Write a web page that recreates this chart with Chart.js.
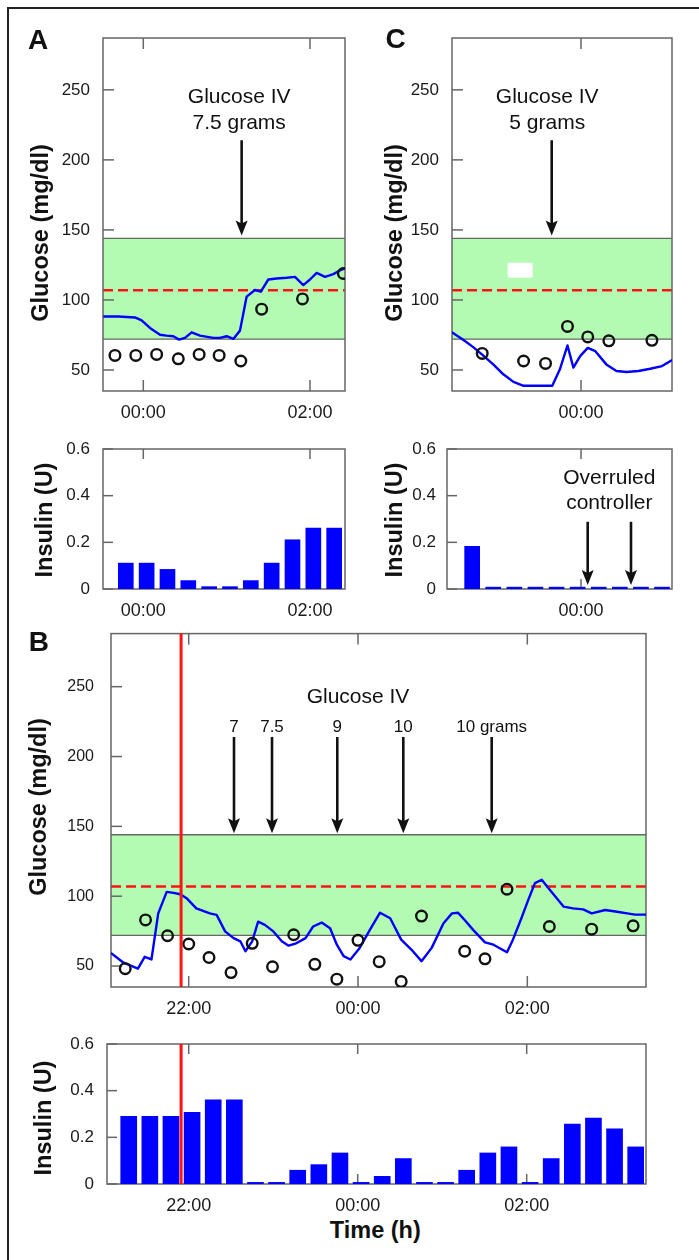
<!DOCTYPE html>
<html>
<head>
<meta charset="utf-8">
<script src="https://cdn.jsdelivr.net/npm/chart.js@4.4.1/dist/chart.umd.min.js"></script>
<style>
html, body { margin: 0; padding: 0; background: #fff; }
body { width: 699px; height: 1260px; position: relative; overflow: hidden;
       font-family: "Liberation Sans", Arial, Helvetica, sans-serif; color: #111; }
#frame { position: absolute; left: 7px; top: 7px; width: 720px; height: 1300px;
         border-left: 2px solid #222; border-top: 2px solid #222; }
canvas { position: absolute; }
.t { position: absolute; white-space: nowrap; line-height: 1; transform: translate(-50%, -50%); }
.b { font-weight: bold; font-size: 23.5px; }
.r { transform: translate(-50%, -50%) rotate(-90deg); }
.p { font-weight: bold; font-size: 28px; }
</style>
</head>
<body>
<div id="frame"></div>

<canvas id="gA" width="315" height="400" style="left:40px;top:20px"></canvas>
<canvas id="iA" width="315" height="190" style="left:40px;top:430px"></canvas>
<canvas id="gC" width="300" height="400" style="left:390px;top:20px"></canvas>
<canvas id="iC" width="300" height="190" style="left:390px;top:430px"></canvas>
<canvas id="gB" width="630" height="405" style="left:40px;top:615px"></canvas>
<canvas id="iB" width="630" height="190" style="left:40px;top:1025px"></canvas>

<div class="t p" style="left:38px;top:39.5px">A</div>
<div class="t p" style="left:395.5px;top:39px">C</div>
<div class="t p" style="left:38.8px;top:642px">B</div>

<div class="t b r" style="left:40.5px;top:232.5px">Glucose (mg/dl)</div>
<div class="t b r" style="left:395px;top:232.5px">Glucose (mg/dl)</div>
<div class="t b r" style="left:39.3px;top:806.7px">Glucose (mg/dl)</div>
<div class="t b r" style="left:44.7px;top:520px">Insulin (U)</div>
<div class="t b r" style="left:394.7px;top:520px">Insulin (U)</div>
<div class="t b r" style="left:43.8px;top:1118.3px">Insulin (U)</div>
<div class="t b" style="left:375.3px;top:1230.5px">Time (h)</div>

<script>
// temps en heures par rapport à minuit (négatif = soirée précédente)
const glucoseTicks = [50, 100, 150, 200, 250];
const glucoseLabels = ['50', '100', '150', '200', '250'];
const insulinTicks = [0, 0.2, 0.4, 0.6];
const insulinLabels = ['0', '0.2', '0.4', '0.6'];
const timeTicksA = [0, 2];
const timeTicksB = [-2, 0, 2];
const timeTicksC = [0];

const targetRange = [72, 144];
const targetGlucose = 107;

// --- Panel A ---
const cgmA_t = [-0.48, -0.30, -0.10, -0.02, 0.08, 0.20, 0.28, 0.36, 0.43, 0.50, 0.58, 0.68, 0.84, 0.92, 1.00, 1.08,
                1.16, 1.24, 1.34, 1.41, 1.50, 1.60, 1.72, 1.82, 1.92, 2.00, 2.08, 2.18, 2.28, 2.38, 2.42];
const cgmA_v = [88.2, 88.2, 87.5, 85.4, 80.0, 75.2, 74.5, 74.1, 71.7, 72.9, 76.9, 74.5, 72.9, 72.9, 74.1, 72.2,
                78.1, 102.4, 107.1, 105.9, 114.6, 115.3, 115.8, 116.5, 110.6, 114.6, 119.3, 116.5, 118.4, 121.7, 122.4];
const refA_t = [-0.34, -0.09, 0.16, 0.42, 0.67, 0.91, 1.17, 1.42, 1.91, 2.40];
const refA_v = [60.4, 60.4, 61.1, 58.0, 61.1, 60.4, 56.4, 93.4, 100.7, 118.9];
const insA_t = [-0.21, 0.04, 0.29, 0.54, 0.79, 1.04, 1.29, 1.54, 1.79, 2.04, 2.29];
const insA_v = [0.111, 0.111, 0.084, 0.036, 0.010, 0.010, 0.036, 0.111, 0.211, 0.261, 0.261];
const ivA_t = [1.18];
const ivA_label = ['Glucose IV', '7.5 grams'];

// --- Panel C ---
const cgmC_t = [-1.53, -1.40, -1.28, -1.16, -1.04, -0.92, -0.80, -0.68, -0.53, -0.34, -0.25, -0.16, -0.09, -0.01,
                0.08, 0.17, 0.30, 0.42, 0.54, 0.68, 0.82, 0.96, 1.08];
const cgmC_v = [76.9, 71.7, 66.5, 60.4, 54.0, 46.9, 41.5, 38.7, 38.7, 38.7, 50.5, 67.5, 51.7, 59.9,
                65.8, 63.4, 54.0, 49.3, 48.6, 49.3, 50.9, 52.8, 57.1];
const refC_t = [-1.17, -0.68, -0.42, -0.16, 0.08, 0.33, 0.84];
const refC_v = [61.8, 56.4, 54.7, 81.1, 73.6, 70.8, 71.2];
const insC_t = [-1.29, -1.04, -0.79, -0.54, -0.29, -0.04, 0.21, 0.46, 0.71, 0.96];
const insC_v = [0.183, 0.008, 0.008, 0.008, 0.008, 0.008, 0.008, 0.008, 0.008, 0.008];
const ivC_t = [-0.347];
const ivC_label = ['Glucose IV', '5 grams'];
const overruleC_t = [0.079, 0.592];
const overruleC_label = ['Overruled', 'controller'];

// --- Panel B ---
const cgmB_t = [-2.92, -2.77, -2.60, -2.52, -2.44, -2.36, -2.26, -2.18, -2.10, -2.02, -1.91, -1.75, -1.67, -1.57,
                -1.47, -1.39, -1.33, -1.25, -1.18, -1.10, -1.00, -0.90, -0.82, -0.74, -0.62, -0.53, -0.43, -0.33,
                -0.25, -0.17, -0.09, 0.02, 0.14, 0.26, 0.38, 0.51, 0.63, 0.75, 0.87, 1.01, 1.11, 1.18, 1.26, 1.36,
                1.50, 1.60, 1.76, 1.83, 1.93, 2.01, 2.09, 2.17, 2.27, 2.43, 2.54, 2.66, 2.76, 2.92, 3.06, 3.18,
                3.27, 3.41];
const cgmB_v = [59.4, 52.4, 48.1, 56.6, 54.7, 87.7, 103.1, 102.4, 101.4, 98.3, 91.3, 87.7, 86.6, 74.8,
                70.0, 67.7, 60.6, 67.7, 81.8, 79.5, 74.8, 67.7, 64.6, 66.0, 70.0, 78.3, 81.1, 77.1,
                65.3, 57.1, 54.7, 63.0, 75.9, 88.2, 84.2, 68.9, 61.8, 53.5, 63.0, 80.7, 87.7, 88.2, 83.0, 75.9,
                67.0, 65.3, 59.9, 68.9, 84.2, 97.2, 109.4, 111.8, 104.2, 92.5, 91.3, 90.6, 87.7, 90.1, 88.9, 87.7,
                86.8, 86.8];
const refB_t = [-2.75, -2.51, -2.25, -2.00, -1.76, -1.50, -1.25, -1.01, -0.76, -0.51, -0.25, 0.00, 0.25, 0.51,
                0.75, 1.26, 1.50, 1.76, 2.26, 2.76, 3.25];
const refB_v = [48.1, 83.0, 71.7, 65.8, 56.1, 45.3, 66.3, 49.5, 72.4, 51.2, 40.6, 68.4, 53.1, 38.9,
                85.8, 60.6, 55.2, 105.0, 78.3, 76.4, 78.8];
const insB_t = [-2.71, -2.46, -2.21, -1.96, -1.71, -1.46, -1.21, -0.96, -0.71, -0.46, -0.21, 0.04, 0.29,
                0.54, 0.79, 1.04, 1.29, 1.54, 1.79, 2.04, 2.29, 2.54, 2.79, 3.04, 3.29];
const insB_v = [0.290, 0.290, 0.290, 0.307, 0.361, 0.361, 0.007, 0.007, 0.059, 0.083, 0.133, 0.007, 0.033,
                0.109, 0.007, 0.007, 0.059, 0.133, 0.159, 0.007, 0.109, 0.257, 0.283, 0.236, 0.159];
const ivB_t = [-1.465, -1.016, -0.245, 0.535, 1.579];
const ivB_label = ['7', '7.5', '9', '10', '10 grams'];
const switchB_t = -2.09;

const FONT = '"Liberation Sans", Arial, Helvetica, sans-serif';
const BLUE = '#0000ff';
const GREEN = '#b3fbb3';
const RED = '#ff1414';
const AXIS = '#666';
const INK = '#111';

Chart.defaults.font.family = FONT;
Chart.defaults.color = '#1a1a1a';

function pairs(ts, vs) { return ts.map((t, i) => ({ x: t, y: vs[i] })); }
function clock(h) { const hh = ((h % 24) + 24) % 24; return (hh < 10 ? '0' : '') + hh + ':00'; }

function seg(ctx, x0, y0, x1, y1) { ctx.beginPath(); ctx.moveTo(x0, y0); ctx.lineTo(x1, y1); ctx.stroke(); }

function arrow(ctx, px, y0, y1) {
    ctx.strokeStyle = INK; ctx.fillStyle = INK; ctx.lineWidth = 2.6;
    seg(ctx, px, y0, px, y1 - 10);
    ctx.beginPath();
    ctx.moveTo(px, y1);
    ctx.lineTo(px - 6, y1 - 15);
    ctx.lineTo(px, y1 - 12);
    ctx.lineTo(px + 6, y1 - 15);
    ctx.closePath();
    ctx.fill();
}

// bande cible, graduations internes, cadre, flèches et textes
function makeDecor(cfg) {
    return {
        id: 'decor',
        beforeDatasetsDraw(chart) {
            const { ctx, chartArea: a } = chart;
            const x = chart.scales.x, y = chart.scales.y;
            ctx.save();
            if (cfg.band) {
                const top = y.getPixelForValue(targetRange[1]);
                const bot = y.getPixelForValue(targetRange[0]);
                ctx.fillStyle = GREEN;
                ctx.fillRect(a.left, top, a.width, bot - top);
                ctx.strokeStyle = AXIS; ctx.lineWidth = 1.3;
                seg(ctx, a.left, top, a.right, top);
                seg(ctx, a.left, bot, a.right, bot);
                const ty = y.getPixelForValue(targetGlucose);
                ctx.strokeStyle = RED; ctx.lineWidth = 2.5; ctx.setLineDash([10, 5]);
                seg(ctx, a.left, ty, a.right, ty);
                ctx.setLineDash([]);
            }
            ctx.strokeStyle = AXIS; ctx.lineWidth = 1.5;
            cfg.xTicks.forEach(v => {
                const px = x.getPixelForValue(v);
                seg(ctx, px, a.top, px, a.top + cfg.tick);
                seg(ctx, px, a.bottom, px, a.bottom - cfg.tick);
            });
            cfg.yTicks.forEach(v => {
                const py = y.getPixelForValue(v);
                seg(ctx, a.left, py, a.left + cfg.tick, py);
            });
            ctx.strokeRect(a.left, a.top, a.width, a.height);
            ctx.restore();
        },
        afterDatasetsDraw(chart) {
            const { ctx, chartArea: a } = chart;
            const x = chart.scales.x, y = chart.scales.y;
            ctx.save();
            if (cfg.mask) {
                const m = cfg.mask;
                const x0 = x.getPixelForValue(m[0]), x1 = x.getPixelForValue(m[1]);
                const y0 = y.getPixelForValue(m[3]), y1 = y.getPixelForValue(m[2]);
                ctx.fillStyle = '#fff';
                ctx.fillRect(x0, y0, x1 - x0, y1 - y0);
            }
            if (cfg.marker !== undefined) {
                const px = x.getPixelForValue(cfg.marker);
                ctx.strokeStyle = RED; ctx.lineWidth = 3;
                seg(ctx, px, a.top, px, a.bottom);
            }
            (cfg.arrows || []).forEach(ar => {
                arrow(ctx, x.getPixelForValue(ar.t), y.getPixelForValue(ar.from), y.getPixelForValue(ar.to));
            });
            ctx.fillStyle = INK; ctx.textAlign = 'center'; ctx.textBaseline = 'middle';
            (cfg.texts || []).forEach(tx => {
                ctx.font = tx.size + 'px ' + FONT;
                ctx.fillText(tx.text, x.getPixelForValue(tx.t), y.getPixelForValue(tx.v));
            });
            ctx.restore();
        }
    };
}

function baseOptions(p) {
    return {
        responsive: false, animation: false, events: [], devicePixelRatio: 1,
        layout: { padding: { left: 0, top: p.padTop, right: p.padRight, bottom: 0 } },
        plugins: { legend: { display: false }, tooltip: { enabled: false } },
        scales: {
            x: {
                type: 'linear', min: p.xMin, max: p.xMax, offset: false,
                grid: { display: false }, border: { display: false },
                ticks: { font: { size: 18 }, padding: 3, maxRotation: 0, autoSkip: false, callback: v => clock(v) },
                afterBuildTicks: s => { s.ticks = p.xTicks.map(v => ({ value: v })); },
                afterFit: s => { s.height = p.xAxisH; }
            },
            y: {
                type: 'linear', min: p.yMin, max: p.yMax,
                grid: { display: false }, border: { display: false },
                ticks: { font: { size: p.yFont }, padding: p.yPad, autoSkip: false, callback: (v, i) => p.yLabels[i] },
                afterBuildTicks: s => { s.ticks = p.yTicks.map(v => ({ value: v })); },
                afterFit: s => { s.width = p.yAxisW; }
            }
        }
    };
}

function glucoseSets(ct, cv, rt, rv) {
    return [
        { data: pairs(rt, rv), showLine: false, clip: 0, pointRadius: 5.3, pointBorderWidth: 2.4,
          borderColor: INK, pointBorderColor: INK, pointBackgroundColor: 'rgba(0,0,0,0)', backgroundColor: 'rgba(0,0,0,0)' },
        { data: pairs(ct, cv), clip: 0, borderColor: BLUE, borderWidth: 2.4, pointRadius: 0, tension: 0,
          borderJoinStyle: 'round', fill: false }
    ];
}

function insulinSets(t, v, w) {
    return [{ data: pairs(t, v), backgroundColor: BLUE, borderWidth: 0, barThickness: w }];
}

// --- A : glucose ---
new Chart(document.getElementById('gA'), {
    type: 'line',
    data: { datasets: glucoseSets(cgmA_t, cgmA_v, refA_t, refA_v) },
    options: baseOptions({ padTop: 18, padRight: 10, xMin: -0.4835, xMax: 2.42, xTicks: timeTicksA, xAxisH: 29,
                           yMin: 35, yMax: 287, yTicks: glucoseTicks, yLabels: glucoseLabels, yFont: 17, yPad: 5, yAxisW: 63 }),
    plugins: [makeDecor({
        band: true, xTicks: timeTicksA, yTicks: glucoseTicks, tick: 11,
        arrows: [{ t: ivA_t[0], from: 214, to: 146 }],
        texts: [{ t: ivA_t[0] - 0.03, v: 245, text: ivA_label[0], size: 21 },
                { t: ivA_t[0] - 0.03, v: 226.5, text: ivA_label[1], size: 21 }]
    })]
});

// --- A : insuline ---
new Chart(document.getElementById('iA'), {
    type: 'bar',
    data: { datasets: insulinSets(insA_t, insA_v, 15) },
    options: baseOptions({ padTop: 19, padRight: 10, xMin: -0.4835, xMax: 2.42, xTicks: timeTicksA, xAxisH: 31,
                           yMin: 0, yMax: 0.6, yTicks: insulinTicks, yLabels: insulinLabels, yFont: 17, yPad: 5, yAxisW: 63 }),
    plugins: [makeDecor({ xTicks: timeTicksA, yTicks: insulinTicks, tick: 10 })]
});

// --- C : glucose ---
new Chart(document.getElementById('gC'), {
    type: 'line',
    data: { datasets: glucoseSets(cgmC_t, cgmC_v, refC_t, refC_v) },
    options: baseOptions({ padTop: 18, padRight: 18, xMin: -1.528, xMax: 1.078, xTicks: timeTicksC, xAxisH: 29,
                           yMin: 35, yMax: 287, yTicks: glucoseTicks, yLabels: glucoseLabels, yFont: 17, yPad: 5, yAxisW: 62 }),
    plugins: [makeDecor({
        band: true, xTicks: timeTicksC, yTicks: glucoseTicks, tick: 11,
        mask: [-0.868, -0.572, 115.9, 126.6],
        arrows: [{ t: ivC_t[0], from: 214, to: 146 }],
        texts: [{ t: ivC_t[0] - 0.053, v: 245, text: ivC_label[0], size: 21 },
                { t: ivC_t[0] - 0.053, v: 226.5, text: ivC_label[1], size: 21 }]
    })]
});

// --- C : insuline ---
const overMid = (overruleC_t[0] + overruleC_t[1]) / 2;
new Chart(document.getElementById('iC'), {
    type: 'bar',
    data: { datasets: insulinSets(insC_t, insC_v, 15) },
    options: baseOptions({ padTop: 19, padRight: 18, xMin: -1.588, xMax: 1.078, xTicks: timeTicksC, xAxisH: 31,
                           yMin: 0, yMax: 0.6, yTicks: insulinTicks, yLabels: insulinLabels, yFont: 17, yPad: 3, yAxisW: 57 }),
    plugins: [makeDecor({
        xTicks: timeTicksC, yTicks: insulinTicks, tick: 10,
        arrows: overruleC_t.map(t => ({ t: t, from: 0.288, to: 0.017 })),
        texts: [{ t: overMid, v: 0.474, text: overruleC_label[0], size: 21 },
                { t: overMid, v: 0.367, text: overruleC_label[1], size: 21 }]
    })]
});

// --- B : glucose ---
new Chart(document.getElementById('gB'), {
    type: 'line',
    data: { datasets: glucoseSets(cgmB_t, cgmB_v, refB_t, refB_v) },
    options: baseOptions({ padTop: 18, padRight: 24, xMin: -2.918, xMax: 3.402, xTicks: timeTicksB, xAxisH: 33,
                           yMin: 35, yMax: 288, yTicks: glucoseTicks, yLabels: glucoseLabels, yFont: 16, yPad: 9, yAxisW: 71 }),
    plugins: [makeDecor({
        band: true, xTicks: timeTicksB, yTicks: glucoseTicks, tick: 11, marker: switchB_t,
        arrows: ivB_t.map(t => ({ t: t, from: 214, to: 145 })),
        texts: [{ t: 0, v: 242.5, text: 'Glucose IV', size: 21 }]
            .concat(ivB_t.map((t, i) => ({ t: t, v: 221, text: ivB_label[i], size: 17 })))
    })]
});

// --- B : insuline ---
new Chart(document.getElementById('iB'), {
    type: 'bar',
    data: { datasets: insulinSets(insB_t, insB_v, 16) },
    options: baseOptions({ padTop: 19, padRight: 24, xMin: -2.967, xMax: 3.412, xTicks: timeTicksB, xAxisH: 31,
                           yMin: 0, yMax: 0.6, yTicks: insulinTicks, yLabels: insulinLabels, yFont: 17, yPad: 5, yAxisW: 67 }),
    plugins: [makeDecor({ xTicks: timeTicksB, yTicks: insulinTicks, tick: 10, marker: switchB_t })]
});
</script>
</body>
</html>
